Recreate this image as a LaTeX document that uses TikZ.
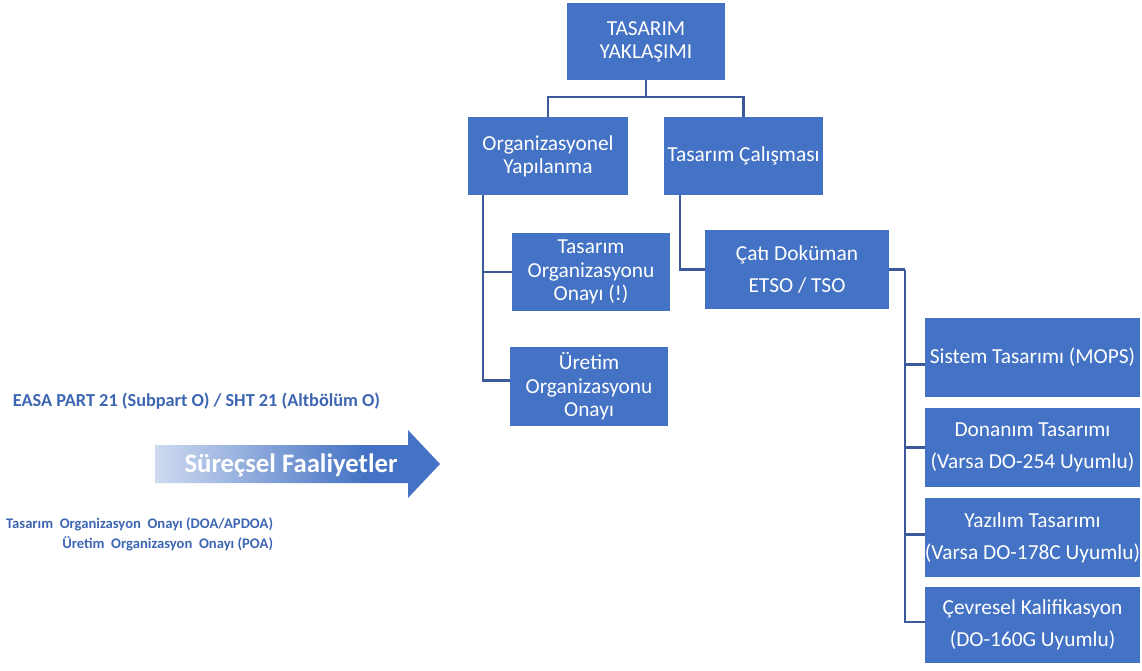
\documentclass[tikz,border=0pt]{standalone}
\usepackage{fontspec}
\setmainfont{Carlito}
\usetikzlibrary{calc, positioning}

\definecolor{boxblue}{RGB}{68,114,196}
\definecolor{lineblue}{RGB}{60,90,155}
\definecolor{textblue}{RGB}{61,102,178}
\pgfdeclarehorizontalshading{arrowfade}{100bp}{color(0bp)=(white); color(12bp)=(white); color(62bp)=(boxblue); color(100bp)=(boxblue)}

\begin{document}
\begin{tikzpicture}[x=0.025cm, y=-0.025cm,
	box/.style={rectangle, fill=boxblue, text=white, align=center, inner sep=0pt,
		font=\fontsize{15.2}{16.3}\selectfont},
	conn/.style={draw=lineblue, line width=1.5pt},
	side/.style={text=textblue, font=\bfseries}]

		% fixing the page to the size of the reference
		\useasboundingbox (0,0) rectangle (1142,670);

		% top of the tree
		\node[box, minimum width=3.95cm, minimum height=1.93cm] (yaklasim) at (646,41.5) {TASARIM\\YAKLAŞIMI};
		\node[box, minimum width=4cm, minimum height=1.95cm] (org) at (548,156) {Organizasyonel\\Yapılanma};
		\node[box, minimum width=3.98cm, minimum height=1.95cm] (calisma) at (743.5,156) {Tasarım Çalışması};

		% organisation branch
		\node[box, minimum width=3.95cm, minimum height=1.95cm] (tdo) at (591,272) {Tasarım\\[0.5pt]Organizasyonu\\[0.5pt]Onayı (!)};
		\node[box, minimum width=3.95cm, minimum height=1.98cm] (uretim) at (589,386.5) {Üretim\\[0.5pt]Organizasyonu\\[0.5pt]Onayı};

		% design branch
		\node[box, minimum width=4.6cm, minimum height=1.98cm] (cati) at (797,269.5) {Çatı Doküman\\[7pt]ETSO / TSO};
		\node[box, minimum width=5.38cm, minimum height=1.98cm] (sistem) at (1032.5,357.5) {Sistem Tasarımı (MOPS)};
		\node[box, minimum width=5.38cm, minimum height=1.98cm] (donanim) at (1032.5,447.5) {Donanım Tasarımı\\[6.5pt](Varsa DO-254 Uyumlu)};
		\node[box, minimum width=5.38cm, minimum height=1.98cm] (yazilim) at (1032.5,537.5) {Yazılım Tasarımı\\[6.5pt](Varsa DO-178C Uyumlu)};
		\node[box, minimum width=5.38cm, minimum height=1.9cm] (cevresel) at (1032.5,625) {Çevresel Kalifikasyon\\[6.5pt](DO-160G Uyumlu)};

		% connectors from the top box
		\draw[conn] (yaklasim.south) -- ++(0,17) coordinate (split) -| (org.north);
		\draw[conn] (split) -| (calisma.north);

		% connectors under the two boxes
		\coordinate (orgbus) at ($(org.south west)+(15,0)$);
		\draw[conn] (orgbus) |- (tdo.west);
		\draw[conn] (orgbus) |- ($(uretim.west)+(0,-6)$);
		\draw[conn] ($(calisma.south west)+(16,0)$) |- (cati.west);

		% bus on the right of the roof document
		\draw[conn] (cati.east) -- ++(16,0) coordinate (catibus);
		\draw[conn] (catibus) |- ($(sistem.west)+(0,7)$);
		\draw[conn] (catibus) |- (donanim.west);
		\draw[conn] (catibus) |- ($(yazilim.west)+(0,-3)$);
		\draw[conn] (catibus) |- ($(cevresel.west)+(0,-3)$);

		% texts on the left
		\node[side, anchor=west, font=\bfseries\fontsize{13}{15}\selectfont] (easa) at (8,401) {EASA PART 21 (Subpart O) / SHT 21 (Altbölüm O)};
		\node[side, anchor=east, align=right, font=\bfseries\fontsize{10.4}{14.5}\selectfont] (doa) at (278,534) {Tasarım\ \ Organizasyon\ \ Onayı (DOA/APDOA)\\Üretim\ \ Organizasyon\ \ Onayı (POA)};

		% the fading arrow
		\shade[shading=arrowfade] (155,445) -- (408,445) -- (408,430) -- (440,464) -- (408,498) -- (408,483) -- (155,483) -- cycle;
		\node[text=white, font=\bfseries\fontsize{19}{22}\selectfont] (faaliyet) at (291,465) {Süreçsel Faaliyetler};
	\end{tikzpicture}
\end{document}
